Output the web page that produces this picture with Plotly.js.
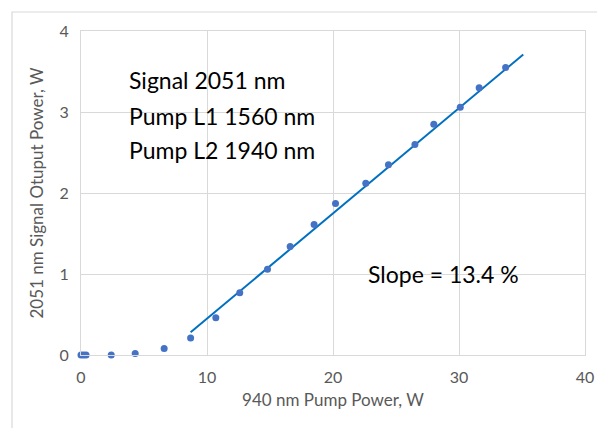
<!DOCTYPE html>
<html>
<head>
<meta charset="utf-8">
<script src="https://cdn.plot.ly/plotly-3.0.1.min.js"></script>
<style>html,body{margin:0;padding:0;background:#fff;}#chart{width:597px;height:428px;}</style>
</head>
<body>
<div id="chart"></div>
<script>
// Measured data
const pumpPower = [0, 0.2, 0.4, 2.4, 4.3, 6.6, 8.7, 10.7, 12.6, 14.8, 16.6, 18.5, 20.2, 22.6, 24.4, 26.5, 28.0, 30.1, 31.6, 33.7];
const signalPower = [0, 0, 0, 0, 0.02, 0.08, 0.21, 0.46, 0.77, 1.06, 1.34, 1.61, 1.87, 2.12, 2.35, 2.60, 2.85, 3.06, 3.30, 3.55];
// Linear fit line end points
const fitX = [8.7, 35.1];
const fitY = [0.28, 3.71];
const xTicks = [0, 10, 20, 30, 40];
const yTicks = [0, 1, 2, 3, 4];
const labelLines = ["Signal 2051 nm", "Pump L1 1560 nm", "Pump L2 1940 nm"];
const slopeLabel = "Slope = 13.4 %";

const FONT = "Lato, 'Open Sans', sans-serif";
const grid = "#d9d9d9";

const traces = [
  {x: fitX, y: fitY, mode: "lines", line: {color: "#0070C0", width: 2}, hoverinfo: "skip", cliponaxis: false},
  {x: pumpPower, y: signalPower, mode: "markers", marker: {color: "#4472C4", size: 7}, cliponaxis: false}
];

const labelY = [3.40, 2.95, 2.53];
const annotations = labelLines.map((t, i) => ({
  x: 3.65, y: labelY[i], xref: "x", yref: "y", text: t, showarrow: false,
  xanchor: "left", yanchor: "middle", font: {family: FONT, size: 23, color: "#000"}
}));
annotations.push({x: 22.6, y: 1.0, xref: "x", yref: "y", text: slopeLabel, showarrow: false,
  xanchor: "left", yanchor: "middle", font: {family: FONT, size: 23, color: "#000"}});

const layout = {
  width: 597, height: 428,
  margin: {l: 81, r: 12, t: 31, b: 73, pad: 0},
  paper_bgcolor: "#fff", plot_bgcolor: "#fff",
  showlegend: false,
  font: {family: FONT, color: "#595959", size: 16},
  xaxis: {
    range: [0, 40], tickvals: xTicks, ticktext: xTicks.map(String),
    showgrid: true, gridcolor: grid, gridwidth: 1,
    zeroline: false, showline: true, linecolor: grid, linewidth: 1, mirror: true,
    ticks: "", ticklabelstandoff: 8,
    tickfont: {family: FONT, size: 16, color: "#595959"},
    title: {text: "940 nm Pump Power, W", font: {family: FONT, size: 17, color: "#595959"}, standoff: 8}
  },
  yaxis: {
    range: [0, 4], tickvals: yTicks, ticktext: yTicks.map(String),
    showgrid: true, gridcolor: grid, gridwidth: 1,
    zeroline: false, showline: true, linecolor: grid, linewidth: 1, mirror: true,
    ticks: "", ticklabelstandoff: 8,
    tickfont: {family: FONT, size: 16, color: "#595959"},
    title: {text: "2051 nm Signal Otuput Power, W", font: {family: FONT, size: 17, color: "#595959"}, standoff: 11}
  },
  annotations: annotations,
  shapes: [
    {type: "path", xref: "paper", yref: "paper",
     path: "M -0.1369 -0.3 L -0.1369 1.0586 L 1.1 1.0586",
     line: {color: grid, width: 1.2}}
  ]
};

Plotly.newPlot("chart", traces, layout, {staticPlot: true, displayModeBar: false});
</script>
</body>
</html>
